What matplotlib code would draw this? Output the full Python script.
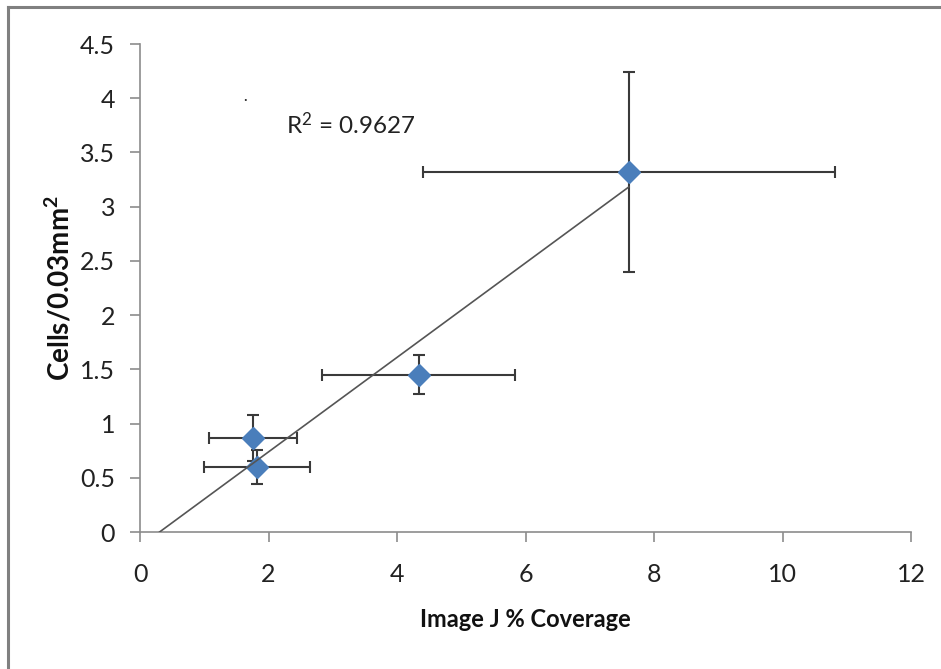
import numpy as np
import matplotlib
matplotlib.use("Agg")
import matplotlib.pyplot as plt
from matplotlib.lines import Line2D

# Data
coverage = [1.76, 1.82, 4.34, 7.61]
coverage_err = [0.69, 0.82, 1.50, 3.20]
cells = [0.867, 0.60, 1.448, 3.32]
cells_err = [0.21, 0.16, 0.18, 0.92]
r2_label = r"R$^2$ = 0.9627"
xticks = [0, 2, 4, 6, 8, 10, 12]
yticks = [0, 0.5, 1, 1.5, 2, 2.5, 3, 3.5, 4, 4.5]
ytick_labels = ["0", "0.5", "1", "1.5", "2", "2.5", "3", "3.5", "4", "4.5"]

plt.rcParams['font.family'] = ['Lato', 'DejaVu Sans']
plt.rcParams['mathtext.fontset'] = 'custom'
plt.rcParams['mathtext.rm'] = 'Lato'
plt.rcParams['mathtext.it'] = 'Lato:italic'
plt.rcParams['mathtext.bf'] = 'Lato:bold'
plt.rcParams['mathtext.default'] = 'regular'

fig = plt.figure(figsize=(9.41, 6.69), dpi=100)
ax = fig.add_axes([140/941, 1-532/669, (911-140)/941, (532-44)/669])

ax.errorbar(coverage, cells, xerr=coverage_err, yerr=cells_err, fmt='none',
            ecolor='#3a3a3a', elinewidth=1.5, capsize=4, capthick=1.5, zorder=2)
ax.plot(coverage, cells, linestyle='none', marker='D', markersize=11.5,
        markerfacecolor='#4A7EBB', markeredgecolor='#4A7EBB', zorder=3)

# Linear trendline
slope, intercept = np.polyfit(coverage, cells, 1)
x0 = -intercept / slope
xs = np.array([x0, max(coverage)])
ax.plot(xs, slope * xs + intercept, color='#555555', linewidth=1.2, zorder=4)

ax.text(2.28, 3.76, r2_label, fontsize=17.5, va='center', ha='left', color='#222222')
ax.text(1.63, 3.985, '·', fontsize=10, va='center', ha='center', color='#222222')

ax.set_xlim(0, 12)
ax.set_ylim(0, 4.5)
ax.set_xticks(xticks)
ax.set_yticks(yticks)
ax.set_yticklabels(ytick_labels)
for s in ['top', 'right']:
    ax.spines[s].set_visible(False)
for s in ['left', 'bottom']:
    ax.spines[s].set_color('#8c8c8c')
    ax.spines[s].set_linewidth(1.2)
ax.tick_params(axis='both', direction='out', length=7, width=1.2, color='#8c8c8c',
               labelsize=18, labelcolor='#222222')
ax.tick_params(axis='x', pad=15)
ax.tick_params(axis='y', pad=11)

ax.set_xlabel('Image J % Coverage', fontsize=17, fontweight='bold', labelpad=16, color='#111111')
ax.set_ylabel(r'$\mathbf{Cells/0.03mm^2}$', fontsize=20, labelpad=4, color='#111111')

# Figure frame (top and left edges visible)
fig.add_artist(Line2D([8/941, 8/941], [0, 1-7/669], transform=fig.transFigure,
                      color='#808080', linewidth=2.2))
fig.add_artist(Line2D([8/941, 1], [1-7/669, 1-7/669], transform=fig.transFigure,
                      color='#808080', linewidth=2.2))

fig.savefig('out.png', dpi=100)
